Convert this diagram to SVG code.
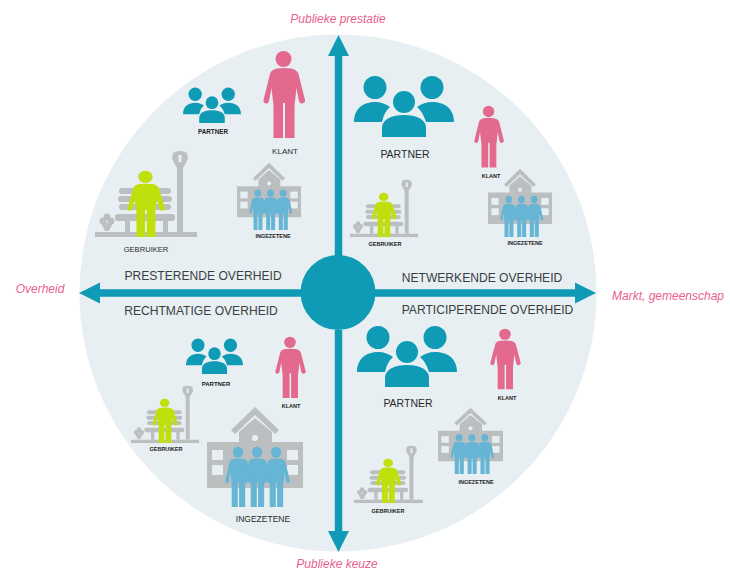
<svg xmlns="http://www.w3.org/2000/svg" xmlns:xlink="http://www.w3.org/1999/xlink" width="730" height="571" viewBox="0 0 730 571">
<style>
text{font-family:"Liberation Sans",Arial,sans-serif;fill:#2a2a2a;text-anchor:middle}
.ax{font-size:12.1px;fill:#3a3f42}
.big{font-size:10.5px}
.mid{font-size:8.500px}
.sm{font-size:5.500px;font-weight:bold;fill:#222}
.pink{font-size:12px;font-style:italic;fill:#e8638c}
.conn{stroke:#0f9ab5;stroke-width:7.500;fill:none;marker-end:url(#ah)}
.g{fill:#bcbfc0}.w{fill:#e8eff2}
</style>
<defs>
<marker id="ah" markerUnits="userSpaceOnUse" markerWidth="22" markerHeight="22" refX="0" refY="11" orient="auto"><path d="M0 0.5L21 11L0 21.500Z" fill="#0f9ab5"/></marker>
<g id="person"><circle cx="20.500" cy="9" r="8"/><path d="M14 18.500Q20.500 17.500 28 18.500Q34 19.500 35.500 24L42 50Q42.500 53 39 53.500Q37 54 36 51L33.500 38L31.500 56V88H22V53H20V88H10.500V56L8.500 38L6 51Q5 54 3 53.500Q0 53 0.500 50L7 24Q8 19.500 14 18.500Z"/></g>
<g id="group" fill="#0f9ab5"><circle cx="21" cy="12.500" r="11.500"/><circle cx="78" cy="12.500" r="11.500"/><path d="M0 47C0 33 10 27 21 27C27 27 32 29 36 32Q30 37 28 47Z"/><path d="M100 47C100 33 90 27 78 27C72 27 67 29 63 32Q69 37 72 47Z"/><circle cx="50" cy="27" r="11"/><path d="M28 62V53C28 44 38 40 50 40C62 40 72 44 72 53V62Z"/></g>
<g id="school"><path class="g" d="M48 1L72 24L68 28L48 9L28 28L24 24Z"/><path class="g" d="M32 26L48 12L65 26V36H96V82H0V36H32Z"/><circle class="w" cx="48" cy="32" r="3"/><g class="w"><rect x="5" y="44" width="11" height="10"/><rect x="5" y="59" width="11" height="10"/><rect x="80" y="44" width="11" height="10"/><rect x="80" y="59" width="11" height="10"/><rect x="37" y="59" width="22" height="8"/></g>
<g fill="#67b5d5"><use xlink:href="#person" href="#person" transform="translate(18,40) scale(.64,.693)"/><use xlink:href="#person" href="#person" transform="translate(56,40) scale(.64,.693)"/><use xlink:href="#person" href="#person" transform="translate(37,40) scale(.64,.693)"/></g></g>
<g id="park"><rect class="g" y="82" width="102" height="5"/><rect class="g" x="82" y="16" width="6" height="66"/><path class="g" d="M78 3Q85 -1 92 3L93 9L88 18H82L77 9Z"/><rect class="w" x="83.500" y="5" width="3" height="7"/><rect class="g" x="20" y="64" width="60" height="7" rx="3"/><rect class="g" x="30" y="70" width="5" height="12"/><rect class="g" x="68" y="70" width="5" height="12"/><g class="g"><rect x="24" y="38" width="52" height="6" rx="3"/><rect x="23" y="46" width="54" height="6" rx="3"/><rect x="24" y="54" width="52" height="6" rx="3"/></g><circle class="g" cx="8" cy="71" r="3.500"/><circle class="g" cx="16" cy="71" r="3.500"/><circle class="g" cx="12" cy="67" r="3.500"/><path class="g" d="M6 73H18L14 81H10Z"/><use xlink:href="#person" href="#person" fill="#bfe00a" transform="translate(32,20) scale(.9,.76)"/></g>
</defs>
<circle id="disc" cx="338" cy="293" r="258.500" fill="#e8eff2"/>
<g id="connectors"><path class="conn" d="M338.500 256V56"/><path class="conn" d="M338.500 330V531"/><path class="conn" d="M301 293H100"/><path class="conn" d="M375 293H575"/></g>
<g id="centre"><circle cx="338" cy="292.500" r="37.500" fill="#0f9ab5"/></g>
<g id="axis-labels"><text class="ax" x="203" y="280">PRESTERENDE OVERHEID</text><text class="ax" x="201" y="315">RECHTMATIGE OVERHEID</text><text class="ax" x="482" y="282">NETWERKENDE OVERHEID</text><text class="ax" x="487.500" y="314">PARTICIPERENDE OVERHEID</text><text class="pink" x="338" y="23">Publieke prestatie</text><text class="pink" x="40" y="293">Overheid</text><text class="pink" x="668" y="300">Markt, gemeenschap</text><text class="pink" x="337" y="567.500">Publieke keuze</text></g>
<g id="ul-partner"><use xlink:href="#group" href="#group" transform="translate(183,87) scale(.58)"/><text class="sm" style="font-size:6.300px" x="213" y="134">PARTNER</text></g>
<g id="ul-klant" fill="#e36a8e"><use xlink:href="#person" href="#person" transform="translate(263,50)"/><text class="mid" style="font-size:8px" x="285" y="154">KLANT</text></g>
<g id="ul-gebruiker"><use xlink:href="#park" href="#park" transform="translate(95,150)"/><text class="mid" style="font-size:7.600px" x="146" y="252">GEBRUIKER</text></g>
<g id="ul-ingezetene"><use xlink:href="#school" href="#school" transform="translate(237,162) scale(.667,.673)"/><text class="sm" x="273" y="238">INGEZETENE</text></g>
<g id="ur-partner"><use xlink:href="#group" href="#group" transform="translate(354,75)"/><text class="big" x="405" y="158">PARTNER</text></g>
<g id="ur-klant" fill="#e36a8e"><use xlink:href="#person" href="#person" transform="translate(474,105) scale(.71)"/><text class="sm" x="491" y="178">KLANT</text></g>
<g id="ur-gebruiker"><use xlink:href="#park" href="#park" transform="translate(350,179) scale(.667)"/><text class="sm" x="385" y="246">GEBRUIKER</text></g>
<g id="ur-ingezetene"><use xlink:href="#school" href="#school" transform="translate(488,168) scale(.667,.683)"/><text class="sm" x="525" y="245">INGEZETENE</text></g>
<g id="ll-partner"><use xlink:href="#group" href="#group" transform="translate(186,338) scale(.57,.58)"/><text class="sm" style="font-size:6px" x="216" y="386">PARTNER</text></g>
<g id="ll-klant" fill="#e36a8e"><use xlink:href="#person" href="#person" transform="translate(275,336) scale(.73,.705)"/><text class="sm" x="291" y="408">KLANT</text></g>
<g id="ll-gebruiker"><use xlink:href="#park" href="#park" transform="translate(131,385) scale(.667)"/><text class="sm" x="166" y="451">GEBRUIKER</text></g>
<g id="ll-ingezetene"><use xlink:href="#school" href="#school" transform="translate(207,406)"/><text class="mid" x="263" y="521.500">INGEZETENE</text></g>
<g id="lr-partner"><use xlink:href="#group" href="#group" transform="translate(357,325)"/><text class="big" x="408" y="407">PARTNER</text></g>
<g id="lr-klant" fill="#e36a8e"><use xlink:href="#person" href="#person" transform="translate(490,328) scale(.73,.695)"/><text class="sm" x="507" y="400">KLANT</text></g>
<g id="lr-gebruiker"><use xlink:href="#park" href="#park" transform="translate(354,445) scale(.676,.667)"/><text class="sm" x="388" y="513">GEBRUIKER</text></g>
<g id="lr-ingezetene"><use xlink:href="#school" href="#school" transform="translate(438,407) scale(.677,.663)"/><text class="sm" x="476" y="484">INGEZETENE</text></g>
</svg>
